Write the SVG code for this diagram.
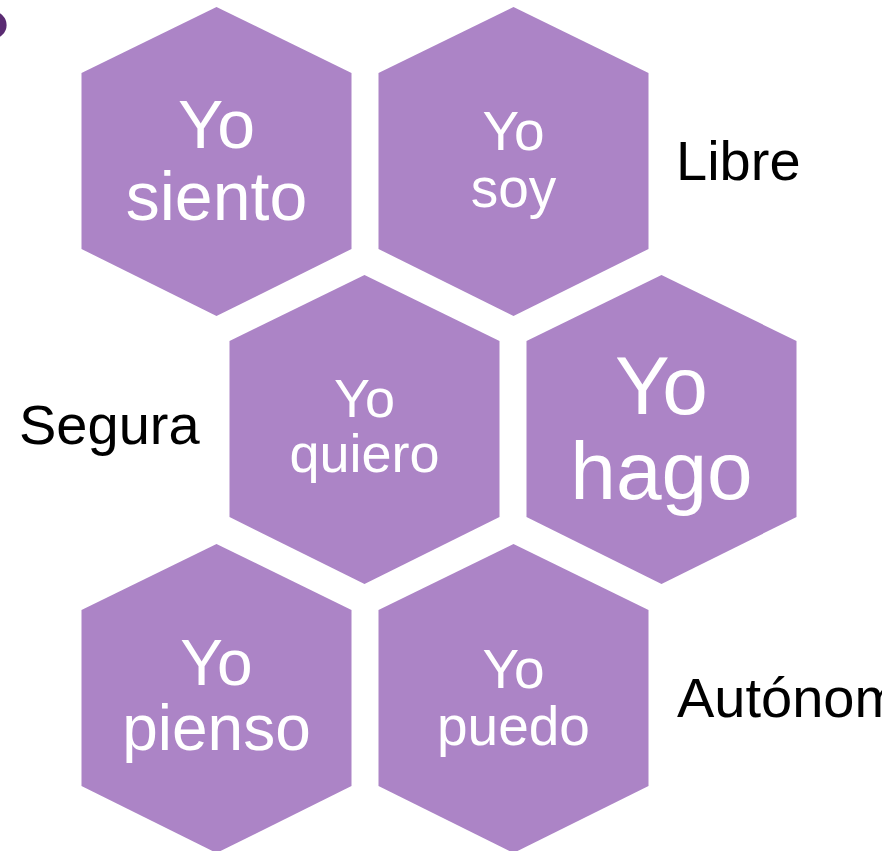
<svg xmlns="http://www.w3.org/2000/svg" width="882" height="851" viewBox="0 0 882 851">
<style>
.hex{fill:#AC84C6;}
.t{font-family:"Liberation Sans",Arial,sans-serif;fill:#FFFFFF;text-anchor:middle;}
.lbl{font-family:"Liberation Sans",Arial,sans-serif;fill:#000000;font-size:56px;}
</style>
<defs>
<polygon id="hx" points="0,0 135,66 135,242 0,309 -135,242 -135,66"/>
</defs>
<rect width="882" height="851" fill="#FFFFFF"/>
<circle cx="-7" cy="25" r="13.6" fill="#5A2B72"/>
<g id="connectors"></g>
<g id="n-siento">
<use href="#hx" class="hex" x="216.5" y="7"/>
<text class="t" font-size="68" x="216.5" y="147.5">Yo</text>
<text class="t" font-size="68" x="216.5" y="219.5">siento</text>
</g>
<g id="n-soy">
<use href="#hx" class="hex" x="513.5" y="7"/>
<text class="t" font-size="55" x="513.5" y="150">Yo</text>
<text class="t" font-size="55" x="513.5" y="207">soy</text>
</g>
<g id="n-quiero">
<use href="#hx" class="hex" x="364.5" y="275"/>
<text class="t" font-size="54" x="364.5" y="416.5">Yo</text>
<text class="t" font-size="54" x="364.5" y="471.5">quiero</text>
</g>
<g id="n-hago">
<use href="#hx" class="hex" x="661.5" y="275"/>
<text class="t" font-size="82" x="661.5" y="413.5">Yo</text>
<text class="t" font-size="82" x="661.5" y="498.5">hago</text>
</g>
<g id="n-pienso">
<use href="#hx" class="hex" x="216.5" y="544"/>
<text class="t" font-size="64" x="216.5" y="685">Yo</text>
<text class="t" font-size="64" x="216.5" y="750">pienso</text>
</g>
<g id="n-puedo">
<use href="#hx" class="hex" x="513.5" y="544"/>
<text class="t" font-size="55" x="513.5" y="687.5">Yo</text>
<text class="t" font-size="55" x="513.5" y="745">puedo</text>
</g>
<g id="labels">
<text class="lbl" x="676" y="179.5">Libre</text>
<text class="lbl" x="19" y="443.5">Segura</text>
<text class="lbl" x="677" y="716.5">Autónoma</text>
</g>
</svg>
